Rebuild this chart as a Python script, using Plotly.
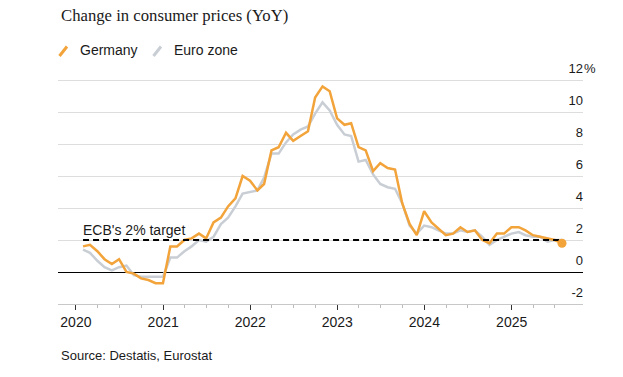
import plotly.graph_objects as go
import pandas as pd

# Monthly HICP inflation, YoY %, Jan 2020 - Jul 2025
months = pd.date_range("2020-01-31", "2025-07-31", freq="ME")
germany = [
    1.6, 1.7, 1.3, 0.8, 0.5, 0.8, 0.0, -0.1, -0.4, -0.5, -0.7, -0.7,
    1.6, 1.6, 2.0, 2.1, 2.4, 2.1, 3.1, 3.4, 4.1, 4.6, 6.0, 5.7,
    5.1, 5.5, 7.6, 7.8, 8.7, 8.2, 8.5, 8.8, 10.9, 11.6, 11.3, 9.6,
    9.2, 9.3, 7.8, 7.6, 6.3, 6.8, 6.5, 6.4, 4.3, 3.0, 2.3, 3.8,
    3.1, 2.7, 2.3, 2.4, 2.8, 2.5, 2.6, 2.0, 1.8, 2.4, 2.4, 2.8,
    2.8, 2.6, 2.3, 2.2, 2.1, 2.0, 1.8,
]
euro_zone = [
    1.4, 1.2, 0.7, 0.3, 0.1, 0.3, 0.4, -0.2, -0.3, -0.3, -0.3, -0.3,
    0.9, 0.9, 1.3, 1.6, 2.0, 1.9, 2.2, 3.0, 3.4, 4.1, 4.9, 5.0,
    5.1, 5.9, 7.4, 7.4, 8.1, 8.6, 8.9, 9.1, 9.9, 10.6, 10.1, 9.2,
    8.6, 8.5, 6.9, 7.0, 6.1, 5.5, 5.3, 5.2, 4.3, 2.9, 2.4, 2.9,
    2.8, 2.6, 2.4, 2.4, 2.6, 2.5, 2.6, 2.2, 1.7, 2.0, 2.2, 2.4,
    2.5, 2.3, 2.2, 2.2, 1.9, 2.0, 2.0,
]
target = 2.0
year_ticks = ["2020-01-01", "2021-01-01", "2022-01-01", "2023-01-01", "2024-01-01", "2025-01-01"]
year_labels = ["2020", "2021", "2022", "2023", "2024", "2025"]
y_ticks = [-2, 0, 2, 4, 6, 8, 10, 12]
y_labels = ["-2", "0", "2", "4", "6", "8", "10", "12"]
quarter_ticks = [d.strftime("%Y-%m-%d") for d in pd.date_range("2020-01-01", "2025-07-01", freq="QS")]

ORANGE = "#F2A33A"
GRAY = "#C9CED5"
TXT = "#1a1a1a"
FONT = "Liberation Sans, Arial, sans-serif"

# plot area in pixels (y range top extended so the "12" label fits inside)
L, R, T, B = 58, 583, 60, 304
W, H = 623, 377
Y_TOP = -2 + (B - T) / 16.0


def px(x):
    return (x - L) / (R - L)


def py(y):
    return (B - y) / (B - T)


fig = go.Figure()
fig.add_trace(go.Scatter(x=months, y=euro_zone, mode="lines",
                         line=dict(color=GRAY, width=2.5), name="Euro zone"))
fig.add_trace(go.Scatter(x=months, y=germany, mode="lines",
                         line=dict(color=ORANGE, width=2.5), name="Germany"))
fig.add_trace(go.Scatter(x=[months[0], months[-1]], y=[target, target], mode="lines",
                         line=dict(color="black", width=2, dash="6px,4px"), name="target"))
fig.add_trace(go.Scatter(x=[months[-1]], y=[germany[-1]], mode="markers",
                         marker=dict(color=ORANGE, size=9), name="last"))

fig.update_layout(
    width=W, height=H,
    margin=dict(l=L, r=W - R, t=T, b=H - B, pad=0),
    plot_bgcolor="white", paper_bgcolor="white",
    showlegend=False,
    font=dict(family=FONT, color=TXT),
    xaxis=dict(
        range=["2019-10-18", "2025-10-27"],
        tickmode="array", tickvals=year_ticks, ticktext=year_labels,
        ticks="outside", ticklen=5, tickcolor="#333", tickwidth=1,
        tickfont=dict(size=14, color=TXT),
        showgrid=False, showline=True, linecolor="#c8c8c8", linewidth=1,
        zeroline=False,
        minor=dict(tickmode="array", tickvals=quarter_ticks, ticks="outside",
                   ticklen=3, tickcolor="#bbbbbb", showgrid=False),
    ),
    yaxis=dict(
        range=[-2, Y_TOP], side="right",
        tickmode="array", tickvals=y_ticks, ticktext=y_labels,
        ticklabelposition="inside top", ticks="",
        ticklabelstandoff=-3, ticklabelshift=-2,
        tickfont=dict(size=13, color=TXT),
        showgrid=True, gridcolor="#dddddd", gridwidth=1,
        zeroline=True, zerolinecolor="black", zerolinewidth=1,
        showline=False,
    ),
)

annotations = [
    dict(text="Change in consumer prices (YoY)", x=px(59), y=py(15), xref="paper", yref="paper",
         xanchor="left", yanchor="middle", showarrow=False,
         font=dict(family="Liberation Serif, Times New Roman, serif", size=16.7, color=TXT)),
    dict(text="Germany", x=px(78), y=py(50), xref="paper", yref="paper",
         xanchor="left", yanchor="middle", showarrow=False, font=dict(size=14, color=TXT)),
    dict(text="Euro zone", x=px(171.5), y=py(50), xref="paper", yref="paper",
         xanchor="left", yanchor="middle", showarrow=False, font=dict(size=14, color=TXT)),
    dict(text="ECB's 2% target", x=months[0], y=target, xref="x", yref="y",
         xanchor="left", yanchor="bottom", xshift=-2, yshift=0, showarrow=False,
         font=dict(size=14, color=TXT)),
    dict(text="%", x=px(582), y=py(68), xref="paper", yref="paper",
         xanchor="left", yanchor="middle", showarrow=False, font=dict(size=13, color=TXT)),
    dict(text="Source: Destatis, Eurostat", x=px(59), y=py(355), xref="paper", yref="paper",
         xanchor="left", yanchor="middle", showarrow=False, font=dict(size=13, color=TXT)),
]
fig.update_layout(annotations=annotations)

shapes = [
    dict(type="line", xref="paper", yref="paper", x0=px(59.5), y0=py(56), x1=px(67), y1=py(46.5),
         line=dict(color=ORANGE, width=3)),
    dict(type="line", xref="paper", yref="paper", x0=px(153.5), y0=py(56), x1=px(161), y1=py(46.5),
         line=dict(color=GRAY, width=3)),
]
fig.update_layout(shapes=shapes)

fig.write_html("out.html", config={"displayModeBar": False},
               post_script="document.body.style.margin='0';document.body.style.padding='0';")
